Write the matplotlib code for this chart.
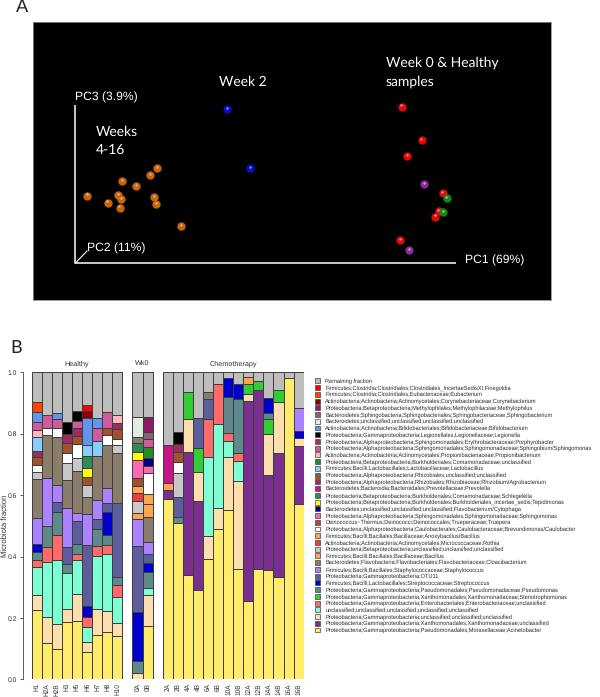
import matplotlib
matplotlib.use("Agg")
import matplotlib.pyplot as plt
from matplotlib.patches import Patch

W, H = 600, 697
SANS = "Liberation Sans"
plt.rcParams["font.family"] = [SANS, "DejaVu Sans"]
plt.rcParams["text.hinting"] = "no_hinting"
plt.rcParams["text.hinting_factor"] = 8

# ---------- Panel A: ordination points ----------
ORANGE_X = [157.0, 150.0, 122.0, 136.3, 87.0, 118.0, 121.3, 154.0, 107.7, 156.3, 119.7, 181.0]
ORANGE_Y = [168.3, 175.3, 181.3, 186.3, 195.7, 195.3, 199.0, 197.0, 202.7, 204.3, 207.7, 226.0]
BLUE_X = [227.3, 250.3]
BLUE_Y = [109.3, 168.3]
RED_X = [401.7, 421.7, 407.0, 442.7, 438.7, 435.3, 400.0]
RED_Y = [106.7, 140.3, 156.3, 193.3, 211.3, 216.7, 240.0]
PURPLE_X = [424.3, 409.3]
PURPLE_Y = [184.0, 250.3]
GREEN_X = [446.7, 443.0]
GREEN_Y = [198.3, 212.3]

# ---------- Panel B: taxa ----------
TAXA = {
    "REM": ("Remaining fraction", "#BEBEBE"),
    "FIN": ("Firmicutes;Clostridia;Clostridiales;Clostridiales_IncertaeSedisXI;Finegoldia", "#FF0000"),
    "EUB": ("Firmicutes;Clostridia;Clostridiales;Eubacteriaceae;Eubacterium", "#FF4500"),
    "COR": ("Actinobacteria;Actinobacteria;Actinomycetales;Corynebacteriaceae;Corynebacterium", "#8B0000"),
    "MET": ("Proteobacteria;Betaproteobacteria;Methylophilales;Methylophilaceae;Methylophilus", "#8B1C62"),
    "SBT": ("Bacteroidetes;Sphingobacteria;Sphingobacteriales;Sphingobacteriaceae;Sphingobacterium", "#8B5F75"),
    "BUN": ("Bacteroidetes;unclassified;unclassified;unclassified;unclassified", "#E0EEE0"),
    "BIF": ("Actinobacteria;Actinobacteria;Bifidobacteriales;Bifidobacteriaceae;Bifidobacterium", "#6495ED"),
    "LEG": ("Proteobacteria;Gammaproteobacteria;Legionellales;Legionellaceae;Legionella", "#000000"),
    "POR": ("Proteobacteria;Alphaproteobacteria;Sphingomonadales;Erythrobacteraceae;Porphyrobacter", "#B03060"),
    "SBM": ("Proteobacteria;Alphaproteobacteria;Sphingomonadales;Sphingomonadaceae;Sphingobium/Sphingomonas", "#CD5C9C"),
    "PRO": ("Actinobacteria;Actinobacteria;Actinomycetales;Propionibacteriaceae;Propionibacterium", "#FFB6C1"),
    "COM": ("Proteobacteria;Betaproteobacteria;Burkholderiales;Comamonadaceae;unclassified", "#228B22"),
    "LAC": ("Firmicutes;Bacilli;Lactobacillales;Lactobacillaceae;Lactobacillus", "#87CEFA"),
    "RUN": ("Proteobacteria;Alphaproteobacteria;Rhizobiales;unclassified;unclassified", "#A0522D"),
    "RHI": ("Proteobacteria;Alphaproteobacteria;Rhizobiales;Rhizobiaceae;Rhizobium/Agrobacterium", "#9B2D5F"),
    "PRE": ("Bacteroidetes;Bacteroidia;Bacteroidales;Prevotellaceae;Prevotella", "#C71585"),
    "SCH": ("Proteobacteria;Betaproteobacteria;Burkholderiales;Comamonadaceae;Schlegelella", "#2E8B57"),
    "TEP": ("Proteobacteria;Betaproteobacteria;Burkholderiales;Burkholderiales_incertae_sedis;Tepidimonas", "#FFFF00"),
    "FLA": ("Bacteroidetes;unclassified;unclassified;unclassified;Flavobacterium/Cytophaga", "#000080"),
    "SPH": ("Proteobacteria;Alphaproteobacteria;Sphingomonadales;Sphingomonadaceae;Sphingomonas", "#FF69B4"),
    "TRU": ("Deinococcus\u2212Thermus;Deinococci;Deinococcales;Trueperaceae;Truepera", "#A0522D"),
    "CAU": ("Proteobacteria;Alphaproteobacteria;Caulobacterales;Caulobacteraceae;Brevundimonas/Caulobacter", "#FFFFFF"),
    "ANO": ("Firmicutes;Bacilli;Bacillales;Bacillaceae;Anoxybacillus/Bacillus", "#FFA54F"),
    "ROT": ("Actinobacteria;Actinobacteria;Actinomycetales;Micrococcaceae;Rothia", "#EE3B3B"),
    "BET": ("Proteobacteria;Betaproteobacteria;unclassified;unclassified;unclassified", "#C8C8C8"),
    "BAC": ("Firmicutes;Bacilli;Bacillales;Bacillaceae;Bacillus", "#FFA54F"),
    "CLO": ("Bacteroidetes;Flavobacteria;Flavobacteriales;Flavobacteriaceae;Cloacibacterium", "#8B7D6B"),
    "STA": ("Firmicutes;Bacilli;Bacillales;Staphylococcaceae;Staphylococcus", "#AB82FF"),
    "OTU": ("Proteobacteria;Gammaproteobacteria;OTU11", "#5D5D9E"),
    "STR": ("Firmicutes;Bacilli;Lactobacillales;Streptococcaceae;Streptococcus", "#0000CD"),
    "PSE": ("Proteobacteria;Gammaproteobacteria;Pseudomonadales;Pseudomonadaceae;Pseudomonas", "#5F8A8B"),
    "STE": ("Proteobacteria;Gammaproteobacteria;Xanthomonadales;Xanthomonadaceae;Stenotrophomonas", "#32CD32"),
    "ENT": ("Proteobacteria;Gammaproteobacteria;Enterobacteriales;Enterobacteriaceae;unclassified", "#FF6A6A"),
    "UNC": ("unclassified;unclassified;unclassified;unclassified;unclassified", "#7FFFD4"),
    "GUN": ("Proteobacteria;Gammaproteobacteria;unclassified;unclassified;unclassified", "#FFDEAD"),
    "XAN": ("Proteobacteria;Gammaproteobacteria;Xanthomonadales;Xanthomonadaceae;unclassified", "#7A2E8E"),
    "ACI": ("Proteobacteria;Gammaproteobacteria;Pseudomonadales;Moraxellaceae;Acinetobacter", "#FFEC6B"),
}

# Each sample: (taxon, cumulative top of its segment), bottom to top
H1 = [("ACI",.226),("GUN",.273),("UNC",.366),("ENT",.390),("PSE",.416),("STR",.442),("STA",.527),("CLO",.654),("BET",.674),("CAU",.698),("RUN",.725),("RHI",.745),("LAC",.790),("PRO",.812),("SBM",.839),("BIF",.872),("EUB",.902),("REM",1)]
H2A = [("ACI",.117),("GUN",.204),("UNC",.381),("ENT",.432),("PSE",.500),("STA",.655),("CLO",.795),("CAU",.817),("SBM",.860),("REM",1)]
H2B = [("ACI",.098),("GUN",.181),("UNC",.390),("ENT",.471),("PSE",.546),("OTU",.577),("STA",.632),("CLO",.788),("CAU",.820),("SBM",.847),("BIF",.866),("REM",1)]
H3 = [("ACI",.186),("GUN",.228),("UNC",.345),("PSE",.375),("OTU",.430),("STA",.557),("CLO",.649),("BET",.706),("CAU",.738),("RUN",.771),("RHI",.798),("LEG",.837),("REM",1)]
H5 = [("ACI",.191),("GUN",.279),("UNC",.388),("ENT",.409),("PSE",.441),("OTU",.515),("STA",.543),("CLO",.679),("BET",.720),("CAU",.768),("RUN",.794),("RHI",.818),("SBM",.841),("LEG",.875),("REM",1)]
H6 = [("ACI",.088),("GUN",.123),("UNC",.169),("ENT",.202),("STR",.239),("OTU",.438),("STA",.539),("CLO",.595),("BET",.634),("TRU",.658),("TEP",.689),("SCH",.727),("LAC",.764),("BIF",.850),("COR",.873),("FIN",.892),("REM",1)]
H7 = [("ACI",.143),("GUN",.228),("UNC",.401),("ENT",.435),("PSE",.491),("OTU",.522),("STA",.584),("CLO",.727),("LAC",.775),("SBM",.818),("BIF",.850),("REM",1)]
H8 = [("ACI",.154),("GUN",.224),("UNC",.409),("ENT",.438),("PSE",.471),("STR",.544),("OTU",.575),("STA",.622),("CLO",.762),("CAU",.795),("RUN",.820),("SBM",.870),("REM",1)]
H10 = [("ACI",.140),("GUN",.184),("UNC",.268),("ENT",.307),("PSE",.332),("OTU",.573),("CLO",.736),("BET",.764),("CAU",.784),("RUN",.814),("RHI",.835),("PRO",.861),("REM",1)]
W0A = [("GUN",.022),("PSE",.060),("STR",.220),("OTU",.435),("STA",.521),("ANO",.541),("BET",.580),("ROT",.606),("BAC",.631),("TRU",.656),("SPH",.714),("TEP",.742),("SCH",.769),("CLO",.788),("BUN",.856),("REM",1)]
W0B = [("ACI",.172),("GUN",.276),("UNC",.296),("PSE",.349),("STR",.378),("OTU",.409),("STA",.448),("CLO",.528),("ANO",.570),("BAC",.603),("CAU",.673),("SPH",.695),("FLA",.721),("COM",.756),("SBM",.784),("SBT",.807),("MET",.853),("REM",1)]
C2A = [("ACI",.588),("XAN",.616),("ANO",.638),("PRE",.762),("REM",1)]
C2B = [("ACI",.509),("PSE",.530),("OTU",.593),("BET",.671),("CAU",.707),("RUN",.742),("RHI",.767),("LEG",.807),("REM",1)]
C4A = [("ACI",.341),("XAN",.741),("GUN",.847),("STE",.935),("REM",1)]
C4B = [("ACI",.292),("XAN",.581),("GUN",.674),("STE",.755),("OTU",.851),("REM",1)]
C6A = [("ACI",.391),("GUN",.466),("UNC",.723),("ENT",.849),("OTU",.914),("CLO",.937),("REM",1)]
C6B = [("ACI",.488),("GUN",.557),("UNC",.832),("ENT",.961),("REM",1)]
C10A = [("ACI",.550),("GUN",.725),("UNC",.776),("ENT",.803),("PSE",.920),("STR",.982),("REM",1)]
C10B = [("ACI",.358),("GUN",.645),("UNC",.710),("ENT",.737),("PSE",.912),("STR",.962),("REM",1)]
C12A = [("ACI",.254),("XAN",.907),("GUN",.928),("STE",.962),("ANO",.986),("REM",1)]
C12B = [("ACI",.360),("XAN",.941),("STE",.972),("REM",1)]
C14A = [("ACI",.355),("XAN",.667),("GUN",.798),("STE",.847),("PSE",.866),("STR",.915),("REM",1)]
C14B = [("ACI",.334),("XAN",.736),("GUN",.902),("STE",.942),("REM",1)]
C16A = [("ACI",.980),("REM",1)]
C16B = [("ACI",.570),("XAN",.759),("GUN",.785),("STR",.809),("STA",.883),("REM",1)]

HEALTHY = [("H1",H1),("H2A",H2A),("H2B",H2B),("H3",H3),("H5",H5),("H6",H6),("H7",H7),("H8",H8),("H10",H10)]
WK0 = [("0A",W0A),("0B",W0B)]
CHEMO = [("2A",C2A),("2B",C2B),("4A",C4A),("4B",C4B),("6A",C6A),("6B",C6B),("10A",C10A),("10B",C10B),
         ("12A",C12A),("12B",C12B),("14A",C14A),("14B",C14B),("16A",C16A),("16B",C16B)]


def px_axes(fig, x0, y0, x1, y1):
    return fig.add_axes([x0 / W, 1 - y1 / H, (x1 - x0) / W, (y1 - y0) / H])


def ftext(fig, x, y, s, **kw):
    kw.setdefault("ha", "left")
    kw.setdefault("va", "center")
    return fig.text(x / W, 1 - y / H, s, **kw)


fig = plt.figure(figsize=(W / 100, H / 100), dpi=100, facecolor="white")

# ---------- Panel A ----------
PA = (32.7, 21.7, 550.7, 300.0)
axa = px_axes(fig, *PA)
axa.set_facecolor("black")
axa.set_xlim(PA[0], PA[2])
axa.set_ylim(PA[3], PA[1])
axa.set_xticks([])
axa.set_yticks([])
for sp in axa.spines.values():
    sp.set_color("#8a8a8a")
    sp.set_linewidth(0.6)
axa.plot([75, 75], [105, 263.5], color="white", lw=1.1, solid_capstyle="butt")
axa.plot([75, 455.7], [263.5, 263.5], color="white", lw=1.1, solid_capstyle="butt")
axa.plot([75, 87], [263.5, 251], color="white", lw=0.8)
for xs, ys, c in [(ORANGE_X, ORANGE_Y, "#C8640A"), (BLUE_X, BLUE_Y, "#0A0ACC"),
                  (RED_X, RED_Y, "#DD0A0A"), (PURPLE_X, PURPLE_Y, "#8A2A96"),
                  (GREEN_X, GREEN_Y, "#108A10")]:
    axa.scatter(xs, ys, s=36, color=c, linewidths=0, zorder=3)
    axa.scatter([x - 0.4 for x in xs], [y - 1.3 for y in ys], s=3, color="white", alpha=0.55,
                linewidths=0, zorder=4)

LATO = "Lato"
ftext(fig, 218.5, 81.5, "Week 2", color="white", fontsize=10, family=LATO)
ftext(fig, 95.5, 132, "Weeks", color="white", fontsize=10, family=LATO)
ftext(fig, 95.5, 150, "4-16", color="white", fontsize=10, family=LATO)
ftext(fig, 386, 63, "Week 0 & Healthy", color="white", fontsize=10, family=LATO)
ftext(fig, 386, 81.5, "samples", color="white", fontsize=10, family=LATO)
ftext(fig, 75, 97, "PC3 (3.9%)", color="white", fontsize=8.7)
ftext(fig, 87, 248, "PC2 (11%)", color="white", fontsize=8.7)
ftext(fig, 465, 260.5, "PC1 (69%)", color="white", fontsize=8.7)
ftext(fig, 16, 7, "A", color="#222222", fontsize=13, family=LATO)
ftext(fig, 10.5, 347.5, "B", color="#222222", fontsize=13, family=LATO)

# ---------- Panel B ----------
LEFT, RIGHT, BARW = 22.7, 303.7, 10.07
axb = px_axes(fig, LEFT, 372.3, RIGHT, 679.3)
axb.set_xlim(-(31.7 - LEFT) / BARW, 27)
axb.set_ylim(0, 1)
positions, labels = [], []
pos = 0
for group in (HEALTHY, WK0, CHEMO):
    for name, segs in group:
        bottom = 0.0
        for key, top in segs:
            axb.bar(pos + 0.5, top - bottom, bottom=bottom, width=1.0, color=TAXA[key][1],
                    edgecolor="#3c3c3c", linewidth=0.7)
            bottom = top
        positions.append(pos + 0.5)
        labels.append(name)
        pos += 1
    pos += 1
axb.set_yticks([0, .2, .4, .6, .8, 1.0])
axb.set_yticklabels(["0.0", "0.2", "0.4", "0.6", "0.8", "1.0"], fontsize=4.9, color="#333333")
axb.set_xticks(positions)
axb.set_xticklabels(labels, rotation=90, fontsize=4.7, color="#333333")
axb.tick_params(axis="x", length=0, pad=2.7)
axb.tick_params(axis="y", length=2.5, width=0.6, color="#444444", pad=1.5)
for s in ("top", "right", "bottom"):
    axb.spines[s].set_visible(False)
axb.spines["left"].set_linewidth(0.6)
axb.spines["left"].set_color("#444444")
ftext(fig, 5, 525.8, "Microbiota fraction", ha="center", rotation=90, fontsize=5.5, color="#333333")
ftext(fig, 77, 363.3, "Healthy", ha="center", fontsize=5.2, color="#333333")
ftext(fig, 142.5, 363.3, "Wk0", ha="center", fontsize=5.2, color="#333333")
ftext(fig, 233, 363.3, "Chemotherapy", ha="center", fontsize=5.2, color="#333333")

handles = [Patch(facecolor=c, edgecolor="#444444", linewidth=0.5, label=n) for n, c in TAXA.values()]
leg = fig.legend(handles=handles, loc="upper left", bbox_to_anchor=(315 / W, 1 - 378.4 / H),
                 frameon=False, fontsize=4.1, borderpad=0, borderaxespad=0,
                 handlelength=0.95, handleheight=0.95, handletextpad=0.85, labelspacing=0.188)
for t in leg.get_texts():
    t.set_color("#2a2a2a")

fig.savefig("out.png", dpi=100)
